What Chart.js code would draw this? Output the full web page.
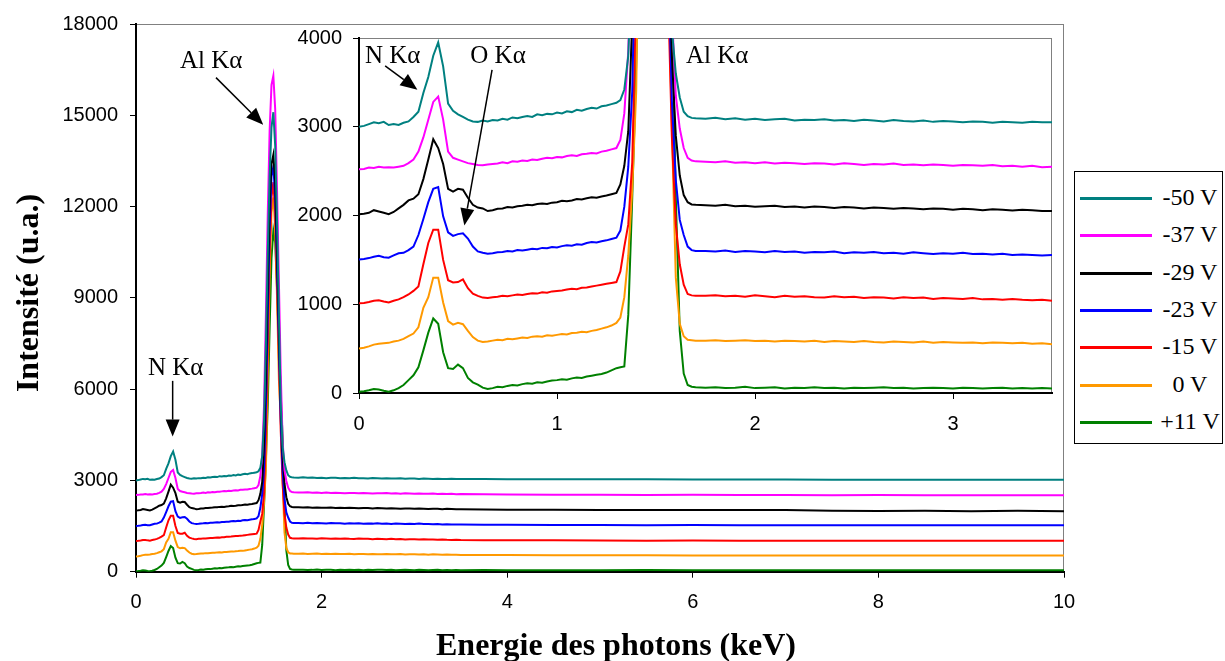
<!DOCTYPE html>
<html>
<head>
<meta charset="utf-8">
<script src="https://cdn.jsdelivr.net/npm/chart.js@4.4.1/dist/chart.umd.min.js"></script>
<style>
    html, body { margin: 0; padding: 0; background: #fff; overflow: hidden; }
    #wrap { position: relative; width: 1225px; height: 661px; overflow: hidden; }
    #mainChart { position: absolute; left: 0; top: 0; }
    #insetChart { position: absolute; left: 290px; top: 15px; }
    #legend { position: absolute; left: 1074px; top: 171px; width: 147px; height: 271px;
              border: 1px solid #000; background: #fff;
              font-family: 'Liberation Serif', 'Times New Roman', serif; font-size: 24px; color: #000; }
    #legend .line { position: absolute; left: 5px; width: 72px; height: 3px; }
    #legend .txt { position: absolute; left: 83px; width: 64px; height: 24px; line-height: 24px;
                   text-align: center; white-space: nowrap; }
</style>
</head>
<body>
<div id="wrap">
    <canvas id="mainChart" width="1225" height="668"></canvas>
    <canvas id="insetChart" width="770" height="425"></canvas>
    <div id="legend"></div>
</div>
<script>
// energies (keV)
const energies = [
    0, 0.025, 0.05, 0.075, 0.1, 0.125, 0.15, 0.175, 0.2, 0.225, 0.25, 0.275, 0.3,
    0.325, 0.35, 0.375, 0.4, 0.425, 0.45, 0.475, 0.5, 0.525, 0.55, 0.575, 0.6,
    0.625, 0.65, 0.675, 0.7, 0.725, 0.75, 0.775, 0.8, 0.825, 0.85, 0.875, 0.9, 0.925, 0.95, 0.975, 1.0,
    1.025, 1.05, 1.075, 1.1, 1.125, 1.15, 1.175, 1.2, 1.225, 1.25, 1.275, 1.3,
    1.32, 1.34, 1.36, 1.38, 1.40, 1.42, 1.44, 1.46, 1.48, 1.50, 1.52, 1.54, 1.56, 1.58, 1.60, 1.62, 1.64, 1.66, 1.68, 1.70,
    1.75, 1.8, 1.85, 1.9, 1.95, 2.0, 2.05, 2.1, 2.15, 2.2, 2.25, 2.3, 2.35, 2.4, 2.45, 2.5, 2.55, 2.6,
    2.65, 2.7, 2.75, 2.8, 2.85, 2.9, 2.95, 3.0, 3.05, 3.1, 3.15, 3.2, 3.25, 3.3, 3.35, 3.4, 3.45, 3.5,
    3.75, 4, 4.5, 5, 5.5, 6, 6.5, 7, 7.5, 8, 8.5, 9, 9.5, 10
];

const seriesLabels = ['-50 V', '-37 V', '-29 V', '-23 V', '-15 V', '0 V', '+11 V'];
const seriesColors = ['#008080', '#FF00FF', '#000000', '#0000FF', '#FF0000', '#FF9900', '#008000'];

const minus50 = [
    3000, 3010, 3030, 3050, 3040, 3055, 3020, 3030, 3020, 3045, 3060, 3110, 3170,
    3380, 3560, 3800, 3950, 3680, 3260, 3180, 3140, 3110, 3080, 3060, 3055,
    3070, 3060, 3075, 3070, 3090, 3080, 3105, 3095, 3110, 3120, 3110, 3140, 3130, 3145, 3140, 3160,
    3150, 3175, 3165, 3190, 3180, 3200, 3215, 3205, 3230, 3240, 3255, 3270,
    3300, 3420, 3800, 5000, 7500, 10500, 13000, 14600, 15100, 14000, 11500, 8500, 5500, 4100, 3600, 3330, 3170, 3120, 3100, 3095,
    3090, 3100, 3085, 3095, 3080, 3090, 3075, 3085, 3090, 3070, 3080, 3075, 3085, 3070, 3075, 3065, 3080, 3070,
    3060, 3075, 3065, 3060, 3070, 3055, 3065, 3060, 3050, 3060, 3055, 3045, 3055, 3050, 3045, 3055, 3050, 3050,
    3045, 3040, 3040, 3035, 3035, 3030, 3030, 3030, 3025, 3025, 3025, 3020, 3020, 3020
];
const minus37 = [
    2520, 2525, 2540, 2535, 2550, 2540, 2545, 2540, 2550, 2560, 2590, 2630, 2720,
    2880, 3080, 3280, 3340, 3080, 2720, 2650, 2630, 2610, 2590, 2580, 2570,
    2565, 2575, 2580, 2585, 2600, 2590, 2610, 2605, 2620, 2615, 2630, 2625, 2640, 2650, 2645, 2660,
    2655, 2670, 2680, 2670, 2690, 2695, 2705, 2700, 2720, 2730, 2745, 2760,
    2850, 3150, 3850, 5500, 8500, 11800, 14500, 16000, 16300, 15200, 12500, 9500, 6500, 4300, 3350, 2980, 2760, 2650, 2620, 2610,
    2605, 2600, 2610, 2595, 2600, 2590, 2600, 2585, 2595, 2590, 2580, 2590, 2585, 2575, 2590, 2580, 2570, 2580,
    2575, 2585, 2570, 2575, 2565, 2575, 2570, 2560, 2570, 2565, 2560, 2570, 2555, 2560, 2550, 2560, 2545, 2550,
    2545, 2540, 2530, 2525, 2520, 2525, 2520, 2520, 2515, 2520, 2515, 2515, 2510, 2510
];
const minus29 = [
    2015, 2020, 2030, 2060, 2045, 2030, 2015, 2040, 2080, 2120, 2170, 2190, 2240,
    2410, 2630, 2860, 2760, 2580, 2300, 2270, 2300, 2290, 2200, 2120, 2090,
    2080, 2050, 2060, 2075, 2080, 2095, 2090, 2105, 2110, 2120, 2115, 2130, 2135, 2130, 2145, 2150,
    2165, 2160, 2170, 2185, 2180, 2195, 2205, 2200, 2215, 2225, 2240, 2255,
    2350, 2560, 2950, 4200, 6500, 9500, 12000, 13400, 13700, 12800, 10500, 8000, 5500, 3800, 2900, 2450, 2230, 2150, 2125, 2120,
    2115, 2110, 2120, 2105, 2110, 2100, 2105, 2110, 2095, 2100, 2090, 2100, 2095, 2085, 2095, 2090, 2080, 2090,
    2085, 2075, 2085, 2080, 2070, 2080, 2075, 2065, 2075, 2070, 2060, 2070, 2065, 2055, 2065, 2060, 2050, 2050,
    2045, 2040, 2035, 2030, 2030, 2030, 2025, 2025, 2005, 1995, 2000, 1990, 2000, 1990
];
const minus23 = [
    1505, 1510, 1520, 1535, 1545, 1530, 1525, 1550, 1575, 1580, 1610, 1650, 1780,
    1960, 2150, 2300, 2320, 1990, 1810, 1770, 1790, 1800, 1740, 1650, 1595,
    1580, 1570, 1575, 1585, 1590, 1600, 1595, 1610, 1605, 1615, 1625, 1620, 1635, 1630, 1645, 1640,
    1655, 1665, 1660, 1675, 1670, 1690, 1700, 1695, 1710, 1720, 1735, 1750,
    1830, 2100, 2550, 3400, 5500, 8500, 11300, 13000, 13300, 12300, 10000, 7500, 5000, 3300, 2400, 1950, 1780, 1650, 1610, 1600,
    1600, 1595, 1605, 1590, 1600, 1595, 1585, 1600, 1590, 1595, 1580, 1590, 1585, 1595, 1575, 1585, 1580, 1590,
    1575, 1580, 1570, 1585, 1575, 1565, 1575, 1570, 1580, 1565, 1570, 1560, 1570, 1555, 1560, 1555, 1550, 1555,
    1545, 1540, 1535, 1535, 1530, 1535, 1530, 1530, 1530, 1525, 1525, 1525, 1525, 1525
];
const minus15 = [
    1010, 1015, 1025, 1040, 1045, 1030, 1020, 1040, 1055, 1080, 1110, 1150, 1200,
    1450, 1690, 1840, 1840, 1500, 1270, 1245, 1250, 1280, 1180, 1120, 1095,
    1075, 1070, 1080, 1085, 1095, 1090, 1100, 1110, 1105, 1115, 1125, 1120, 1135, 1130, 1145, 1150,
    1155, 1165, 1175, 1170, 1185, 1190, 1200, 1210, 1220, 1230, 1240, 1250,
    1370, 1650, 1900, 2600, 4500, 7500, 10500, 12300, 12800, 11800, 9500, 7000, 4600, 2900, 1900, 1450, 1220, 1115, 1100, 1095,
    1095, 1100, 1090, 1095, 1085, 1100, 1090, 1080, 1095, 1085, 1090, 1080, 1075, 1090, 1080, 1085, 1070, 1080,
    1075, 1065, 1080, 1070, 1075, 1060, 1070, 1065, 1060, 1070, 1055, 1060, 1050, 1060, 1050, 1045, 1050, 1040,
    1035, 1030, 1030, 1025, 1020, 1025, 1020, 1020, 1020, 1015, 1015, 1015, 1015, 1015
];
const zero = [
    500, 510, 525, 545, 555, 560, 565, 580, 590, 610, 640, 670, 740,
    960, 1080, 1300, 1300, 1020, 810, 770, 790, 775, 700, 630, 590,
    575, 580, 590, 600, 595, 610, 605, 615, 625, 620, 635, 640, 635, 650, 645, 655,
    665, 660, 675, 680, 690, 685, 700, 710, 725, 740, 760, 790,
    850, 1080, 1550, 2300, 3400, 6500, 9800, 11800, 12300, 11300, 9000, 6300, 5000, 3000, 1300, 780, 640, 600, 595, 590,
    590, 595, 585, 590, 595, 585, 590, 580, 590, 585, 580, 590, 575, 585, 580, 575, 585, 575,
    570, 580, 575, 570, 580, 565, 575, 570, 565, 570, 560, 570, 565, 560, 565, 555, 560, 550,
    550, 545, 540, 540, 540, 535, 535, 535, 535, 535, 530, 530, 530, 530
];
const plus11 = [
    15, 20, 30, 45, 40, 25, 15, 30, 55, 90, 145, 200, 290,
    480, 680, 840, 780, 460, 280, 270, 320, 280, 170, 120, 95,
    60, 45, 55, 70, 65, 80, 90, 85, 100, 110, 105, 120, 115, 130, 140, 145,
    155, 150, 165, 175, 170, 185, 195, 205, 215, 230, 255, 280,
    290, 300, 880, 2200, 3700, 5500, 8000, 10300, 11200, 10800, 9300, 7500, 5800, 4400, 2200, 700, 220, 90, 70, 65,
    60, 65, 55, 60, 70, 55, 60, 65, 50, 60, 55, 65, 55, 60, 50, 60, 55, 60,
    65, 55, 60, 50, 55, 60, 55, 50, 60, 55, 50, 55, 60, 50, 55, 50, 55, 50,
    55, 50, 50, 50, 55, 50, 50, 50, 50, 50, 50, 50, 45, 45
];
const seriesValues = [minus50, minus37, minus29, minus23, minus15, zero, plus11];

// tick labels
const mainXTicks = [0, 2, 4, 6, 8, 10];
const mainYTicks = [0, 3000, 6000, 9000, 12000, 15000, 18000];
const insetXTicks = [0, 1, 2, 3];
const insetYTicks = [0, 1000, 2000, 3000, 4000];

Chart.defaults.color = '#000';
Chart.defaults.font.family = "'Liberation Sans', Arial, sans-serif";

function makeDatasets() {
    return seriesValues.map((vals, i) => ({
        label: seriesLabels[i],
        data: energies.map((e, j) => ({ x: e, y: vals[j] })),
        borderColor: seriesColors[i],
        backgroundColor: seriesColors[i],
        borderWidth: 2,
        pointRadius: 0,
        tension: 0
    }));
}

// grey frame around the plot area (drawn under the black axes)
const framePlugin = {
    id: 'frame',
    beforeDraw(chart) {
        const a = chart.chartArea;
        const ctx = chart.ctx;
        ctx.save();
        ctx.strokeStyle = '#808080';
        ctx.lineWidth = 1;
        ctx.strokeRect(a.left, a.top + 0.5, a.right - a.left - 0.5, a.bottom - a.top);
        ctx.restore();
    }
};

function drawArrow(ctx, x1, y1, x2, y2) {
    const ang = Math.atan2(y2 - y1, x2 - x1);
    const len = 17, half = 7;
    const bx = x2 - len * Math.cos(ang), by = y2 - len * Math.sin(ang);
    ctx.beginPath();
    ctx.moveTo(x1, y1);
    ctx.lineTo(bx, by);
    ctx.stroke();
    ctx.beginPath();
    ctx.moveTo(x2, y2);
    ctx.lineTo(bx + half * Math.sin(ang), by - half * Math.cos(ang));
    ctx.lineTo(bx - half * Math.sin(ang), by + half * Math.cos(ang));
    ctx.closePath();
    ctx.fill();
}

// peak labels and arrows, placed in data coordinates
const annotationPlugin = {
    id: 'peaks',
    afterDraw(chart, args, opts) {
        const ctx = chart.ctx;
        const xs = chart.scales.x, ys = chart.scales.y;
        ctx.save();
        ctx.fillStyle = '#000';
        ctx.strokeStyle = '#000';
        ctx.lineWidth = 1.5;
        ctx.font = "25px 'Liberation Serif', 'Times New Roman', serif";
        ctx.textAlign = 'left';
        ctx.textBaseline = 'alphabetic';
        (opts.labels || []).forEach(l => {
            ctx.fillText(l.text, xs.getPixelForValue(l.x), ys.getPixelForValue(l.y));
        });
        (opts.arrows || []).forEach(a => {
            drawArrow(ctx, xs.getPixelForValue(a.x1), ys.getPixelForValue(a.y1),
                           xs.getPixelForValue(a.x2), ys.getPixelForValue(a.y2));
        });
        ctx.restore();
    }
};

// axis titles: centred on the whole figure like the original, not on the plot area
const axisTitlePlugin = {
    id: 'axisTitles',
    afterDraw(chart, args, opts) {
        const ctx = chart.ctx;
        ctx.save();
        ctx.fillStyle = '#000';
        ctx.font = "bold 32px 'Liberation Serif', 'Times New Roman', serif";
        ctx.textAlign = 'center';
        ctx.textBaseline = 'alphabetic';
        ctx.fillText(opts.xText, opts.xCenter, opts.xBaseline);
        ctx.translate(opts.yBaseline, opts.yCenter);
        ctx.rotate(-Math.PI / 2);
        ctx.fillText(opts.yText, 0, 0);
        ctx.restore();
    }
};

const tickFont = { family: "'Liberation Sans', Arial, sans-serif", size: 20 };

const mainChart = new Chart(document.getElementById('mainChart').getContext('2d'), {
    type: 'line',
    data: { datasets: makeDatasets() },
    plugins: [framePlugin, annotationPlugin, axisTitlePlugin],
    options: {
        responsive: false,
        animation: false,
        layout: { padding: { left: 0, top: 24, right: 161, bottom: 0 } },
        plugins: {
            legend: { display: false },
            tooltip: { enabled: false },
            peaks: {
                labels: [
                    { text: 'Al K\u03B1', x: 0.474, y: 16557 },
                    { text: 'N K\u03B1', x: 0.129, y: 6470 }
                ],
                arrows: [
                    { x1: 0.862, y1: 16238, x2: 1.371, y2: 14692 },
                    { x1: 0.395, y1: 6272, x2: 0.395, y2: 4440 }
                ]
            },
            axisTitles: {
                xText: 'Energie des photons (keV)', xCenter: 616, xBaseline: 655,
                yText: 'Intensité (u.a.)', yCenter: 293, yBaseline: 38
            }
        },
        scales: {
            x: {
                type: 'linear', min: 0, max: 10,
                afterBuildTicks: s => { s.ticks = mainXTicks.map(v => ({ value: v })); },
                afterFit: s => { s.height = 96.3; },
                ticks: { font: tickFont, padding: 13, maxRotation: 0, callback: v => String(v) },
                grid: { drawOnChartArea: false, drawTicks: true, tickLength: 6, color: '#000' },
                border: { color: '#000', width: 2 }
            },
            y: {
                min: 0, max: 18000,
                afterBuildTicks: s => { s.ticks = mainYTicks.map(v => ({ value: v })); },
                afterFit: s => { s.width = 136; },
                ticks: { font: tickFont, padding: 12, callback: v => String(v) },
                grid: { drawOnChartArea: false, drawTicks: true, tickLength: 6, color: '#000' },
                border: { color: '#000', width: 2 }
            }
        }
    }
});

const insetChart = new Chart(document.getElementById('insetChart').getContext('2d'), {
    type: 'line',
    data: { datasets: makeDatasets() },
    plugins: [framePlugin, annotationPlugin],
    options: {
        responsive: false,
        animation: false,
        layout: { padding: { left: 0, top: 20, right: 8, bottom: 0 } },
        plugins: {
            legend: { display: false },
            tooltip: { enabled: false },
            peaks: {
                labels: [
                    { text: 'N K\u03B1', x: 0.030, y: 3721 },
                    { text: 'O K\u03B1', x: 0.562, y: 3721 },
                    { text: 'Al K\u03B1', x: 1.651, y: 3721 }
                ],
                arrows: [
                    { x1: 0.132, y1: 3687, x2: 0.295, y2: 3416 },
                    { x1: 0.672, y1: 3642, x2: 0.532, y2: 1888 }
                ]
            }
        },
        scales: {
            x: {
                type: 'linear', min: 0, max: 3.5,
                afterBuildTicks: s => { s.ticks = insetXTicks.map(v => ({ value: v })); },
                afterFit: s => { s.height = 47; },
                ticks: { font: tickFont, padding: 13, maxRotation: 0, callback: v => String(v) },
                grid: { drawOnChartArea: false, drawTicks: true, tickLength: 6, color: '#000' },
                border: { color: '#000', width: 2 }
            },
            y: {
                min: 0, max: 4000,
                afterBuildTicks: s => { s.ticks = insetYTicks.map(v => ({ value: v })); },
                afterFit: s => { s.width = 69; },
                ticks: { font: tickFont, padding: 11, callback: v => String(v) },
                grid: { drawOnChartArea: false, drawTicks: true, tickLength: 6, color: '#000' },
                border: { color: '#000', width: 2 }
            }
        }
    }
});

// legend
const legendBox = document.getElementById('legend');
seriesLabels.forEach((label, i) => {
    const cy = 26.3 + i * 37.4;
    const line = document.createElement('div');
    line.className = 'line';
    line.style.top = (cy - 1.5) + 'px';
    line.style.background = seriesColors[i];
    const txt = document.createElement('div');
    txt.className = 'txt';
    txt.style.top = (cy - 13.5) + 'px';
    txt.textContent = label;
    legendBox.appendChild(line);
    legendBox.appendChild(txt);
});
</script>
</body>
</html>
